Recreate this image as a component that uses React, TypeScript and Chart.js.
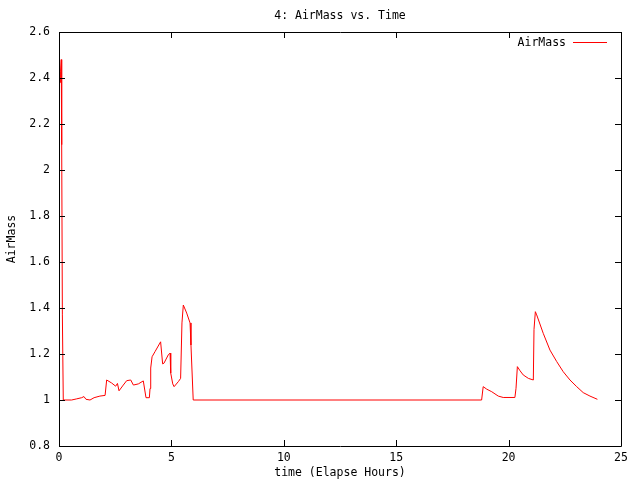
import React, { useEffect, useRef } from "react";
import { Chart, registerables } from "chart.js";

Chart.register(...registerables);

const chartTitle = "4: AirMass vs. Time";
const xTitle = "time (Elapse Hours)";
const yTitle = "AirMass";
const seriesName = "AirMass";

const hours = [
  0.05, 0.07, 0.1, 0.12, 0.15, 0.19, 0.56, 0.79, 1.01, 1.11, 1.2, 1.38, 1.56,
  1.82, 2.05, 2.12, 2.34, 2.52, 2.6, 2.67, 2.86, 3.01, 3.19, 3.31, 3.53, 3.75,
  3.87, 4.02, 4.05, 4.08, 4.14, 4.27, 4.52, 4.61, 4.67, 4.86, 4.94, 4.97, 5.06,
  5.12, 5.31, 5.41, 5.47, 5.53, 5.68, 5.83, 5.87, 5.97, 18.8, 18.87, 19.03,
  19.25, 19.54, 19.76, 20.28, 20.33, 20.39, 20.51, 20.65, 20.88, 21.1, 21.13,
  21.19, 21.25, 21.54, 21.84, 22.14, 22.43, 22.73, 23.03, 23.32, 23.62, 23.95,
];
const airMass = [
  2.38, 2.43, 2.48, 2.11, 1.37, 1.0, 1.0, 1.005, 1.01, 1.015, 1.003, 1.0, 1.01,
  1.017, 1.02, 1.087, 1.074, 1.06, 1.072, 1.04, 1.065, 1.084, 1.087, 1.065, 1.07,
  1.083, 1.01, 1.01, 1.05, 1.139, 1.188, 1.21, 1.253, 1.157, 1.16, 1.196, 1.204,
  1.117, 1.07, 1.058, 1.08, 1.094, 1.335, 1.413, 1.378, 1.335, 1.239, 1.0, 1.0,
  1.058, 1.047, 1.036, 1.017, 1.011, 1.011, 1.051, 1.145, 1.127, 1.109, 1.094,
  1.087, 1.307, 1.384, 1.37, 1.29, 1.217, 1.167, 1.123, 1.087, 1.058, 1.032,
  1.017, 1.003,
];

const xMin = 0;
const xMax = 25;
const xStep = 5;
const yMin = 0.8;
const yMax = 2.6;
const yStep = 0.2;

const FONT = "'DejaVu Sans Mono', monospace";
const FONT_SIZE = 11.5;

const framePlugin = {
  id: "gnuplotFrame",
  afterDraw(chart: any) {
    const { ctx, chartArea } = chart;
    const { left, right, top, bottom } = chartArea;
    const xs = chart.scales.x;
    const ys = chart.scales.y;
    ctx.save();
    ctx.strokeStyle = "#000";
    ctx.lineWidth = 1;
    ctx.beginPath();
    ctx.rect(Math.round(left) + 0.5, Math.round(top) + 0.5, Math.round(right - left), Math.round(bottom - top));
    ctx.stroke();
    const tl = 6;
    ctx.beginPath();
    xs.ticks.forEach((t: any) => {
      const px = Math.round(xs.getPixelForValue(t.value)) + 0.5;
      ctx.moveTo(px, bottom);
      ctx.lineTo(px, bottom - tl);
      ctx.moveTo(px, top);
      ctx.lineTo(px, top + tl);
    });
    ys.ticks.forEach((t: any) => {
      const py = Math.round(ys.getPixelForValue(t.value)) + 0.5;
      ctx.moveTo(left, py);
      ctx.lineTo(left + tl, py);
      ctx.moveTo(right, py);
      ctx.lineTo(right - tl, py);
    });
    ctx.stroke();

    ctx.fillStyle = "#000";
    ctx.font = `${FONT_SIZE}px ${FONT}`;
    ctx.textBaseline = "middle";
    ctx.textAlign = "center";
    ctx.fillText(chartTitle, (left + right) / 2, 16);

    ctx.textAlign = "right";
    ctx.fillText(seriesName, 566, 43);
    ctx.strokeStyle = "#ff0000";
    ctx.beginPath();
    ctx.moveTo(573, 42.5);
    ctx.lineTo(607, 42.5);
    ctx.stroke();
    ctx.restore();
  },
};

export default function App() {
  const ref = useRef<HTMLCanvasElement>(null);
  useEffect(() => {
    if (!ref.current) return;
    const points = hours.map((h, i) => ({ x: h, y: airMass[i] }));
    const chart = new Chart(ref.current, {
      type: "scatter",
      data: {
        datasets: [
          {
            label: seriesName,
            data: points,
            showLine: true,
            borderColor: "#ff0000",
            backgroundColor: "#ff0000",
            borderWidth: 1,
            pointRadius: 0,
            tension: 0,
          },
        ],
      },
      options: {
        responsive: false,
        animation: false,
        events: [],
        layout: { padding: { left: 0, right: 19, top: 32, bottom: 0 } },
        plugins: {
          legend: { display: false },
          title: { display: false },
          tooltip: { enabled: false },
        },
        scales: {
          x: {
            type: "linear",
            min: xMin,
            max: xMax,
            grid: { display: false, drawTicks: false },
            border: { display: false },
            ticks: {
              stepSize: xStep,
              color: "#000",
              padding: 5,
              maxRotation: 0,
              font: { family: FONT, size: FONT_SIZE },
            },
            title: {
              display: true,
              text: xTitle,
              color: "#000",
              padding: { top: 1, bottom: 0 },
              font: { family: FONT, size: FONT_SIZE },
            },
            afterFit: (s: any) => {
              s.height = 34;
            },
          },
          y: {
            type: "linear",
            min: yMin,
            max: yMax,
            grid: { display: false, drawTicks: false },
            border: { display: false },
            ticks: {
              stepSize: yStep,
              color: "#000",
              padding: 9,
              font: { family: FONT, size: FONT_SIZE },
              callback: (v: any) => String(Number(Number(v).toFixed(1))),
            },
            title: {
              display: true,
              text: yTitle,
              color: "#000",
              padding: { top: 5, bottom: 0 },
              font: { family: FONT, size: FONT_SIZE },
            },
            afterFit: (s: any) => {
              s.width = 59;
            },
          },
        },
      },
      plugins: [framePlugin],
    });
    return () => chart.destroy();
  }, []);
  return (
    <div style={{ position: "absolute", left: 0, top: 0, width: 640, height: 480, background: "#fff" }}>
      <canvas ref={ref} width={640} height={480} style={{ width: 640, height: 480 }} />
    </div>
  );
}
